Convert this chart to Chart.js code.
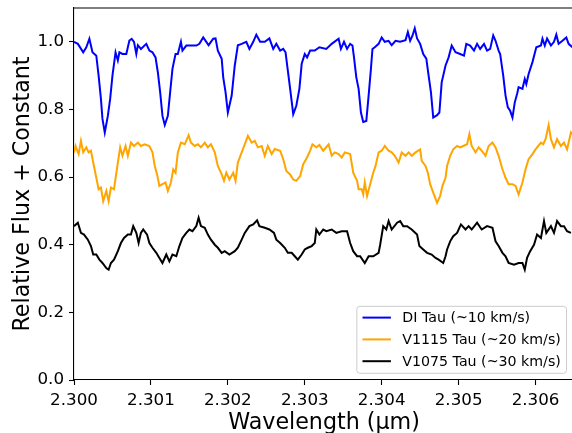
<!DOCTYPE html>
<html>
<head>
<meta charset="utf-8">
<script src="https://cdn.jsdelivr.net/npm/chart.js@4.4.0/dist/chart.umd.min.js"></script>
<style>
    html, body { margin: 0; padding: 0; background: #fff; overflow: hidden; }
    #wrap { width: 580px; height: 433px; }
</style>
</head>
<body>
<div id="wrap"><canvas id="spectra" width="580" height="433"></canvas></div>
<script>
// tick labels
const xTicks = [2.300, 2.301, 2.302, 2.303, 2.304, 2.305, 2.306];
const yTicks = [0.0, 0.2, 0.4, 0.6, 0.8, 1.0];

const seriesNames = ['DI Tau (~10 km/s)', 'V1115 Tau (~20 km/s)', 'V1075 Tau (~30 km/s)'];
const seriesColors = ['#0000ff', '#ffa500', '#000000'];

// DI Tau
const diTauWave = [
    2.30000, 2.30005, 2.30012, 2.30016, 2.30020, 2.30024, 2.30029, 2.30032, 2.30035, 2.30037,
    2.30040, 2.30044, 2.30047, 2.30050, 2.30054, 2.30057, 2.30059, 2.30063, 2.30068, 2.30072,
    2.30075, 2.30078, 2.30081, 2.30083, 2.30087, 2.30094, 2.30098, 2.30102, 2.30106, 2.30109,
    2.30112, 2.30115, 2.30118, 2.30122, 2.30125, 2.30128, 2.30132, 2.30135, 2.30139, 2.30141,
    2.30146, 2.30152, 2.30159, 2.30163, 2.30168, 2.30172, 2.30175, 2.30181, 2.30184, 2.30187,
    2.30192, 2.30194, 2.30197, 2.30200, 2.30202, 2.30205, 2.30209, 2.30213, 2.30218, 2.30224,
    2.30228, 2.30233, 2.30237, 2.30242, 2.30248, 2.30254, 2.30259, 2.30263, 2.30268, 2.30272,
    2.30275, 2.30278, 2.30281, 2.30285, 2.30289, 2.30293, 2.30296, 2.30300, 2.30303, 2.30307,
    2.30313, 2.30319, 2.30328, 2.30335, 2.30344, 2.30347, 2.30351, 2.30355, 2.30359, 2.30362,
    2.30364, 2.30367, 2.30370, 2.30373, 2.30376, 2.30380, 2.30383, 2.30386, 2.30388, 2.30391,
    2.30396, 2.30400, 2.30404, 2.30409, 2.30413, 2.30418, 2.30424, 2.30431, 2.30434, 2.30437,
    2.30440, 2.30443, 2.30446, 2.30450, 2.30454, 2.30458, 2.30461, 2.30464, 2.30467, 2.30472,
    2.30475, 2.30478, 2.30483, 2.30487, 2.30491, 2.30496, 2.30502, 2.30507, 2.30510, 2.30515,
    2.30520, 2.30524, 2.30528, 2.30533, 2.30537, 2.30541, 2.30545, 2.30548, 2.30552, 2.30554,
    2.30558, 2.30561, 2.30564, 2.30567, 2.30570, 2.30573, 2.30576, 2.30578, 2.30583, 2.30586,
    2.30588, 2.30591, 2.30596, 2.30601, 2.30607, 2.30609, 2.30612, 2.30615, 2.30620, 2.30624,
    2.30627, 2.30630, 2.30635, 2.30640, 2.30643, 2.30648
];
const diTauFlux = [
    1.000, 0.994, 0.969, 0.984, 1.009, 0.969, 0.959, 0.900, 0.831, 0.772,
    0.732, 0.781, 0.831, 0.900, 0.969, 0.945, 0.969, 0.964, 0.964, 1.004,
    1.009, 1.000, 0.964, 0.990, 0.979, 0.994, 0.974, 0.969, 0.954, 0.910,
    0.851, 0.781, 0.754, 0.781, 0.851, 0.920, 0.964, 0.964, 1.000, 0.974,
    0.989, 0.989, 0.989, 0.994, 1.013, 1.000, 0.990, 1.009, 1.010, 0.974,
    0.950, 0.895, 0.851, 0.791, 0.811, 0.841, 0.930, 0.990, 0.994, 1.000,
    0.979, 1.000, 1.021, 1.000, 1.000, 1.010, 0.979, 0.994, 0.974, 0.979,
    0.969, 0.915, 0.861, 0.786, 0.811, 0.861, 0.935, 0.964, 0.954, 0.974,
    0.974, 0.984, 0.979, 0.994, 1.009, 0.979, 1.000, 0.979, 0.994, 0.989,
    0.954, 0.895, 0.861, 0.791, 0.763, 0.766, 0.841, 0.920, 0.979, 0.984,
    0.994, 1.013, 1.000, 1.003, 0.990, 1.003, 1.000, 1.005, 1.029, 1.003,
    1.018, 1.040, 1.010, 0.994, 0.964, 0.950, 0.900, 0.851, 0.776, 0.783,
    0.791, 0.880, 0.930, 0.954, 0.989, 0.969, 0.964, 0.959, 0.994, 0.989,
    0.974, 0.994, 0.979, 0.994, 0.974, 0.979, 1.019, 1.003, 0.974, 0.964,
    0.900, 0.841, 0.806, 0.796, 0.776, 0.821, 0.846, 0.866, 0.861, 0.890,
    0.875, 0.905, 0.940, 0.984, 0.989, 1.009, 0.989, 1.010, 0.989, 1.000,
    1.021, 0.994, 1.003, 1.013, 0.994, 0.984
];

// V1115 Tau
const v1115Wave = [
    2.30000, 2.30002, 2.30006, 2.30009, 2.30012, 2.30016, 2.30019, 2.30022, 2.30025, 2.30029,
    2.30032, 2.30035, 2.30038, 2.30042, 2.30045, 2.30048, 2.30052, 2.30057, 2.30060, 2.30063,
    2.30067, 2.30070, 2.30074, 2.30078, 2.30083, 2.30087, 2.30092, 2.30098, 2.30102, 2.30105,
    2.30108, 2.30111, 2.30115, 2.30119, 2.30122, 2.30126, 2.30129, 2.30132, 2.30135, 2.30139,
    2.30144, 2.30149, 2.30152, 2.30157, 2.30161, 2.30165, 2.30170, 2.30174, 2.30178, 2.30183,
    2.30187, 2.30192, 2.30195, 2.30198, 2.30202, 2.30207, 2.30210, 2.30213, 2.30218, 2.30222,
    2.30226, 2.30231, 2.30235, 2.30239, 2.30244, 2.30248, 2.30252, 2.30257, 2.30261, 2.30268,
    2.30272, 2.30276, 2.30281, 2.30285, 2.30289, 2.30294, 2.30298, 2.30303, 2.30307, 2.30310,
    2.30315, 2.30319, 2.30324, 2.30331, 2.30335, 2.30339, 2.30344, 2.30348, 2.30352, 2.30359,
    2.30363, 2.30368, 2.30370, 2.30374, 2.30376, 2.30378, 2.30381, 2.30385, 2.30389, 2.30392,
    2.30396, 2.30400, 2.30404, 2.30409, 2.30413, 2.30417, 2.30422, 2.30426, 2.30431, 2.30435,
    2.30439, 2.30444, 2.30450, 2.30452, 2.30457, 2.30460, 2.30463, 2.30467, 2.30472, 2.30476,
    2.30479, 2.30483, 2.30485, 2.30489, 2.30493, 2.30498, 2.30502, 2.30506, 2.30511, 2.30514,
    2.30517, 2.30522, 2.30526, 2.30530, 2.30535, 2.30539, 2.30544, 2.30548, 2.30552, 2.30557,
    2.30561, 2.30565, 2.30570, 2.30574, 2.30578, 2.30583, 2.30587, 2.30591, 2.30596, 2.30600,
    2.30607, 2.30610, 2.30613, 2.30617, 2.30620, 2.30624, 2.30628, 2.30633, 2.30637, 2.30641,
    2.30646, 2.30648
];
const v1115Flux = [
    0.673, 0.692, 0.668, 0.707, 0.673, 0.688, 0.673, 0.678, 0.643, 0.598,
    0.564, 0.569, 0.529, 0.559, 0.529, 0.569, 0.564, 0.643, 0.688, 0.663,
    0.692, 0.663, 0.702, 0.692, 0.702, 0.692, 0.697, 0.692, 0.673, 0.633,
    0.608, 0.574, 0.579, 0.584, 0.559, 0.584, 0.623, 0.613, 0.673, 0.702,
    0.697, 0.724, 0.702, 0.692, 0.697, 0.688, 0.702, 0.688, 0.697, 0.673,
    0.633, 0.608, 0.589, 0.613, 0.593, 0.613, 0.589, 0.643, 0.673, 0.697,
    0.722, 0.702, 0.707, 0.688, 0.692, 0.663, 0.692, 0.668, 0.683, 0.678,
    0.653, 0.618, 0.608, 0.593, 0.589, 0.603, 0.638, 0.658, 0.678, 0.697,
    0.688, 0.695, 0.678, 0.697, 0.663, 0.673, 0.668, 0.658, 0.673, 0.668,
    0.613, 0.589, 0.564, 0.564, 0.549, 0.584, 0.544, 0.579, 0.613, 0.633,
    0.673, 0.678, 0.692, 0.678, 0.673, 0.663, 0.643, 0.673, 0.663, 0.673,
    0.663, 0.673, 0.682, 0.648, 0.633, 0.613, 0.579, 0.554, 0.524, 0.544,
    0.574, 0.598, 0.633, 0.663, 0.682, 0.692, 0.688, 0.692, 0.697, 0.727,
    0.692, 0.673, 0.688, 0.678, 0.663, 0.692, 0.702, 0.688, 0.663, 0.623,
    0.598, 0.579, 0.579, 0.574, 0.549, 0.584, 0.623, 0.653, 0.668, 0.682,
    0.702, 0.697, 0.712, 0.754, 0.712, 0.688, 0.712, 0.692, 0.702, 0.682,
    0.732, 0.727
];

// V1075 Tau
const v1075Wave = [
    2.30000, 2.30005, 2.30009, 2.30013, 2.30018, 2.30022, 2.30025, 2.30029, 2.30033, 2.30037,
    2.30042, 2.30045, 2.30048, 2.30052, 2.30057, 2.30061, 2.30065, 2.30070, 2.30074, 2.30077,
    2.30081, 2.30084, 2.30087, 2.30090, 2.30095, 2.30098, 2.30102, 2.30107, 2.30111, 2.30115,
    2.30120, 2.30124, 2.30128, 2.30133, 2.30137, 2.30141, 2.30146, 2.30150, 2.30154, 2.30159,
    2.30162, 2.30165, 2.30170, 2.30174, 2.30178, 2.30183, 2.30187, 2.30192, 2.30196, 2.30202,
    2.30209, 2.30213, 2.30218, 2.30222, 2.30228, 2.30233, 2.30238, 2.30241, 2.30248, 2.30254,
    2.30260, 2.30263, 2.30268, 2.30274, 2.30278, 2.30283, 2.30287, 2.30291, 2.30296, 2.30300,
    2.30304, 2.30309, 2.30313, 2.30315, 2.30319, 2.30324, 2.30328, 2.30335, 2.30341, 2.30348,
    2.30355, 2.30359, 2.30363, 2.30368, 2.30372, 2.30378, 2.30383, 2.30389, 2.30396, 2.30398,
    2.30402, 2.30406, 2.30409, 2.30413, 2.30420, 2.30424, 2.30428, 2.30433, 2.30439, 2.30446,
    2.30449, 2.30454, 2.30459, 2.30465, 2.30470, 2.30474, 2.30480, 2.30483, 2.30485, 2.30489,
    2.30493, 2.30498, 2.30503, 2.30509, 2.30513, 2.30517, 2.30524, 2.30530, 2.30537, 2.30544,
    2.30548, 2.30552, 2.30557, 2.30561, 2.30565, 2.30572, 2.30578, 2.30583, 2.30586, 2.30589,
    2.30593, 2.30598, 2.30602, 2.30607, 2.30611, 2.30614, 2.30620, 2.30624, 2.30628, 2.30633,
    2.30637, 2.30641, 2.30646
];
const v1075Flux = [
    0.455, 0.465, 0.435, 0.430, 0.415, 0.396, 0.371, 0.371, 0.356, 0.346,
    0.331, 0.326, 0.346, 0.356, 0.381, 0.405, 0.420, 0.430, 0.430, 0.455,
    0.435, 0.405, 0.435, 0.445, 0.430, 0.405, 0.391, 0.376, 0.361, 0.346,
    0.371, 0.351, 0.371, 0.366, 0.396, 0.420, 0.435, 0.445, 0.440, 0.455,
    0.480, 0.455, 0.450, 0.430, 0.415, 0.400, 0.391, 0.376, 0.381, 0.371,
    0.381, 0.391, 0.415, 0.435, 0.455, 0.460, 0.472, 0.455, 0.450, 0.445,
    0.435, 0.415, 0.405, 0.391, 0.376, 0.376, 0.366, 0.356, 0.371, 0.386,
    0.391, 0.396, 0.405, 0.445, 0.430, 0.445, 0.440, 0.445, 0.435, 0.440,
    0.440, 0.405, 0.381, 0.366, 0.366, 0.346, 0.366, 0.366, 0.376, 0.400,
    0.455, 0.445, 0.470, 0.445, 0.465, 0.470, 0.455, 0.455, 0.445, 0.430,
    0.396, 0.386, 0.376, 0.371, 0.361, 0.356, 0.346, 0.366, 0.386, 0.410,
    0.425, 0.435, 0.460, 0.445, 0.455, 0.445, 0.465, 0.445, 0.455, 0.450,
    0.410, 0.396, 0.376, 0.366, 0.346, 0.341, 0.346, 0.346, 0.326, 0.361,
    0.381, 0.400, 0.430, 0.420, 0.470, 0.435, 0.455, 0.435, 0.470, 0.455,
    0.455, 0.440, 0.435
];

const toPoints = (wave, flux) => wave.map((w, i) => ({ x: w, y: flux[i] }));

const FONT = "'DejaVu Sans', sans-serif";
Chart.defaults.font.family = FONT;
Chart.defaults.color = '#000';

// top spine (matplotlib box)
const topSpine = {
    id: 'topSpine',
    afterDraw(chart) {
        const { ctx, chartArea } = chart;
        ctx.save();
        ctx.strokeStyle = '#000';
        ctx.lineWidth = 1.1;
        ctx.beginPath();
        ctx.moveTo(chartArea.left, chartArea.top);
        ctx.lineTo(chartArea.right, chartArea.top);
        ctx.stroke();
        ctx.restore();
    }
};

// legend drawn inside the plot, lower right
const insideLegend = {
    id: 'insideLegend',
    afterDraw(chart) {
        const { ctx, chartArea } = chart;
        const fs = 14.2;
        ctx.save();
        ctx.font = fs + 'px ' + FONT;
        const textW = Math.max(...chart.data.datasets.map(d => ctx.measureText(d.label).width));
        const pad = 0.4 * fs, handle = 2 * fs, gap = 0.8 * fs;
        const w = pad + handle + gap + textW + pad;
        const h = 67;
        const right = chartArea.right - 7.5;
        const bottom = chartArea.bottom - 6.7;
        const left = right - w, top = bottom - h;

        ctx.beginPath();
        ctx.roundRect(left, top, w, h, 3);
        ctx.fillStyle = 'rgba(255,255,255,0.8)';
        ctx.fill();
        ctx.strokeStyle = '#cccccc';
        ctx.lineWidth = 1;
        ctx.stroke();

        chart.data.datasets.forEach((d, i) => {
            const y = top + 11.3 + i * 21.8;
            ctx.strokeStyle = d.borderColor;
            ctx.lineWidth = 2;
            ctx.beginPath();
            ctx.moveTo(left + pad, y);
            ctx.lineTo(left + pad + handle, y);
            ctx.stroke();
            ctx.fillStyle = '#000';
            ctx.textBaseline = 'middle';
            ctx.textAlign = 'left';
            ctx.fillText(d.label, left + pad + handle + gap, y + 1);
        });
        ctx.restore();
    }
};

const ctx = document.getElementById('spectra');
new Chart(ctx, {
    type: 'line',
    data: {
        datasets: [
            { label: seriesNames[0], data: toPoints(diTauWave, diTauFlux), borderColor: seriesColors[0] },
            { label: seriesNames[1], data: toPoints(v1115Wave, v1115Flux), borderColor: seriesColors[1] },
            { label: seriesNames[2], data: toPoints(v1075Wave, v1075Flux), borderColor: seriesColors[2] }
        ]
    },
    options: {
        responsive: false,
        animation: false,
        events: [],
        layout: { padding: { top: 8, right: 6, left: 0, bottom: 0 } },
        elements: {
            line: { borderWidth: 2, tension: 0, fill: false },
            point: { radius: 0 }
        },
        plugins: {
            legend: { display: false },
            tooltip: { enabled: false }
        },
        scales: {
            x: {
                type: 'linear',
                min: 2.300,
                max: 2.3065,
                afterBuildTicks: axis => { axis.ticks = xTicks.map(v => ({ value: v })); },
                afterFit: axis => {
                    axis.height = 53;
                    axis.paddingLeft = 0;
                    axis.paddingRight = 0;
                },
                ticks: {
                    callback: v => v.toFixed(3),
                    font: { size: 16.7 },
                    color: '#000',
                    padding: 6,
                    maxRotation: 0,
                    autoSkip: false
                },
                grid: { drawOnChartArea: false, drawTicks: true, tickLength: 5, tickColor: '#000', tickWidth: 1.1 },
                border: { color: '#000', width: 1.1 },
                title: {
                    display: true, text: 'Wavelength (μm)', color: '#000',
                    font: { size: 22.2, lineHeight: 1 },
                    padding: { top: 0, bottom: -1.5 }
                }
            },
            y: {
                min: 0,
                max: 1.1,
                afterBuildTicks: axis => { axis.ticks = yTicks.map(v => ({ value: v })); },
                afterFit: axis => {
                    axis.width = 74;
                    axis.paddingTop = 0;
                    axis.paddingBottom = 0;
                },
                ticks: {
                    callback: v => v.toFixed(1),
                    font: { size: 16.7 },
                    color: '#000',
                    padding: 5
                },
                grid: { drawOnChartArea: false, drawTicks: true, tickLength: 5, tickColor: '#000', tickWidth: 1.1 },
                border: { color: '#000', width: 1.1 },
                title: {
                    display: true, text: 'Relative Flux + Constant', color: '#000',
                    font: { size: 22.2, lineHeight: 1 },
                    padding: { top: 12.5, bottom: 0 }
                }
            }
        }
    },
    plugins: [topSpine, insideLegend]
});
</script>
</body>
</html>
